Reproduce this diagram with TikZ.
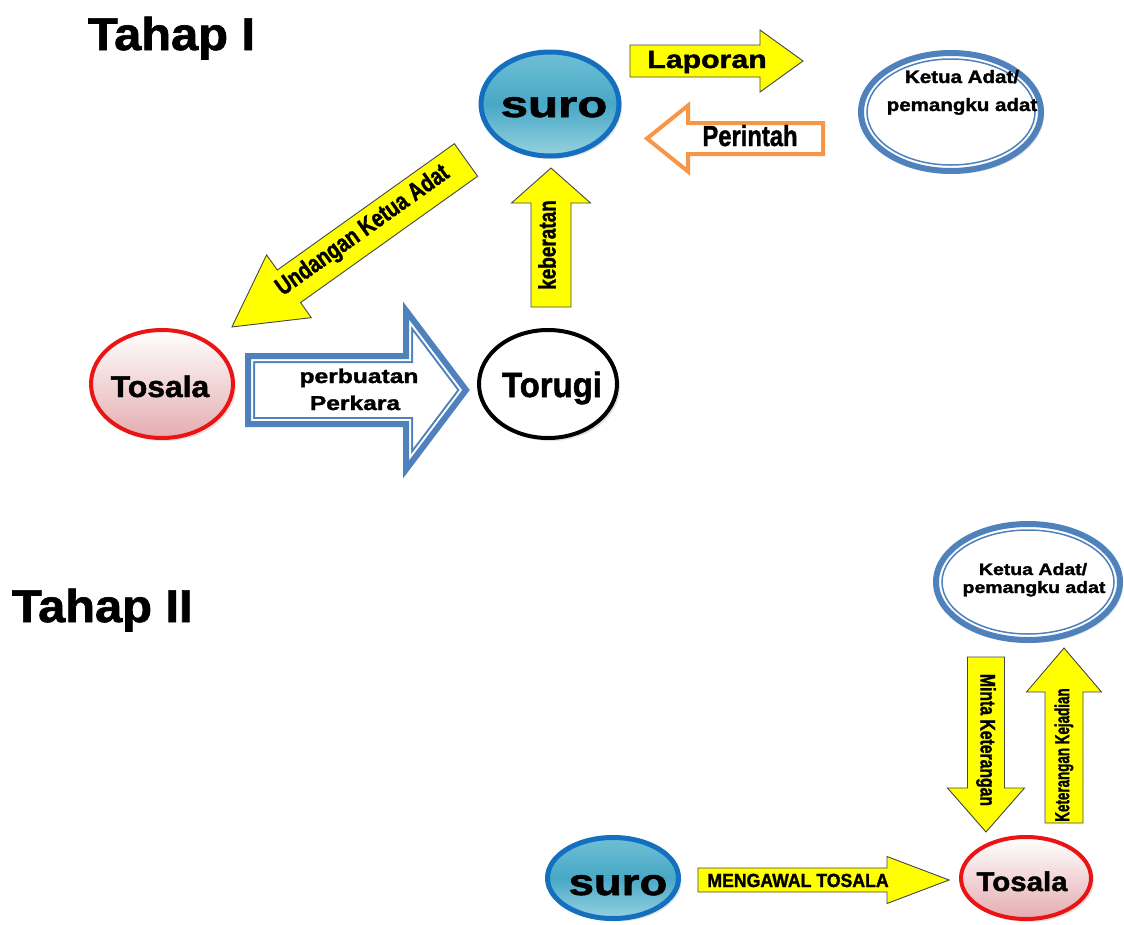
\documentclass[tikz,border=0pt]{standalone}
\usepackage{fontspec}
\setmainfont{Liberation Sans}[BoldFeatures={FakeBold=1.5}]
\usepackage{graphicx}
\usetikzlibrary{shapes.geometric,shadows}
\definecolor{ayellow}{RGB}{255,255,0}
\definecolor{aedge}{RGB}{70,70,70}
\definecolor{sblue}{RGB}{20,112,190}
\definecolor{sTop}{RGB}{110,192,212}
\definecolor{sMid}{RGB}{72,168,198}
\definecolor{sBot}{RGB}{150,210,224}
\definecolor{kblue}{RGB}{79,129,189}
\definecolor{tred}{RGB}{235,20,20}
\definecolor{tpink}{RGB}{228,172,176}
\definecolor{orng}{RGB}{247,150,70}

\newcommand\TX[3]{\scalebox{#2}[1]{\fontsize{#1}{#1}\selectfont\bfseries #3}}
% arrow outline: length, body width, head width, head length
\newcommand\arrowpath[4]{(0,-#2/2) -- (#1-#4,-#2/2) -- (#1-#4,-#3/2) -- (#1,0) -- (#1-#4,#3/2) -- (#1-#4,#2/2) -- (0,#2/2) -- cycle}
% style, tail coordinate, angle, length, body, head, headlen
\newcommand\blockarrow[7]{%
  \begin{scope}[shift={(#2)},rotate=#3]
    \path[#1] \arrowpath{#4}{#5}{#6}{#7};
  \end{scope}}

\tikzset{
  ell/.style={ellipse, inner sep=0pt, outer sep=0pt},
  shad/.style={drop shadow={opacity=0.22, shadow xshift=3pt, shadow yshift=-3pt}},
  suronode/.style={ell, shad, draw=sblue, line width=5, top color=sTop, bottom color=sBot, middle color=sMid},
  tosalanode/.style={ell, shad, draw=tred, line width=4, top color=white, bottom color=tpink},
  torunode/.style={ell, shad, draw=black, line width=4, fill=white},
  ketuanode/.style={ell, shad, draw=kblue, line width=6, fill=white},
  ketuainner/.style={draw=kblue, line width=1.5},
  yarrow/.style={fill=ayellow, draw=aedge, line width=0.9, line join=miter},
  oarrow/.style={fill=white, draw=orng, line width=4, line join=miter},
  lbl/.style={inner sep=0pt, outer sep=0pt},
}

\begin{document}
\begin{tikzpicture}[x=1pt, y=-1pt]
\useasboundingbox[fill=white] (0,0) rectangle (1124,924);

% ---------- Tahap I ----------
\node[lbl, anchor=base west] (tahap1) at (88,50) {\TX{46}{1.06}{Tahap I}};

\node[suronode, minimum width=138, minimum height=104] (suro1) at (550,104) {};
\node[lbl, anchor=base] (suro1t) at (554,117) {\TX{37}{1.33}{suro}};

\node[ketuanode, minimum width=180, minimum height=118] (ketua1) at (951,112) {};
\draw[ketuainner] (ketua1.center) ellipse [x radius=84, y radius=53];
\node[lbl, anchor=base] (ketua1a) at (962,83) {\TX{18}{1.14}{Ketua Adat/}};
\node[lbl, anchor=base] (ketua1b) at (962,111) {\TX{18}{1.14}{pemangku adat}};

\node[tosalanode, minimum width=142, minimum height=108] (tosala1) at (162,384) {};
\node[lbl, anchor=base] (tosala1t) at (160,397) {\TX{30}{1.06}{Tosala}};

\node[torunode, minimum width=138, minimum height=108] (torugi) at (548,384) {};
\node[lbl, anchor=base] (torugit) at (552,397) {\TX{35}{0.94}{Torugi}};

% Laporan
\coordinate (lapA) at (630,61);
\blockarrow{yarrow}{lapA}{0}{173}{32}{62}{43}
\node[lbl, anchor=base] (lapT) at (707,68) {\TX{25}{1.21}{Laporan}};

% Perintah
\coordinate (perA) at (823,138.5);
\blockarrow{oarrow}{perA}{180}{176}{31}{66}{41}
\node[lbl, anchor=base] (perT) at (750,146) {\TX{29}{0.82}{Perintah}};

% Undangan Ketua Adat
\coordinate (undA) at (466,160);
\blockarrow{yarrow}{undA}{215.5}{287.5}{40}{77}{70}
\node[lbl, rotate=35.5] (undT) at (363,231) {\TX{25}{0.79}{Undangan Ketua Adat}};

% keberatan
\coordinate (kebA) at (551,307);
\blockarrow{yarrow}{kebA}{90}{139}{40}{79}{35}
\node[lbl, rotate=90] (kebT) at (547,245) {\TX{24}{0.79}{keberatan}};

% perbuatan Perkara (double blue outline)
\coordinate (pbA) at (248,390);
\begin{scope}[shift={(pbA)}]
  \begin{scope}
    \clip \arrowpath{218}{68}{159}{60};
    \fill[white] \arrowpath{218}{68}{159}{60};
    \draw[kblue, line width=14, line join=miter] \arrowpath{218}{68}{159}{60};
    \draw[white, line width=10, line join=miter] \arrowpath{218}{68}{159}{60};
  \end{scope}
  \draw[kblue, line width=6, line join=miter] \arrowpath{218}{68}{159}{60};
\end{scope}
\node[lbl, anchor=base] (pbT1) at (359,383) {\TX{20}{1.23}{perbuatan}};
\node[lbl, anchor=base] (pbT2) at (355,410) {\TX{20}{1.23}{Perkara}};

% ---------- Tahap II ----------
\node[lbl, anchor=base west] (tahap2) at (12,622) {\TX{46}{1.06}{Tahap II}};

\node[ketuanode, minimum width=184, minimum height=116] (ketua2) at (1028,582) {};
\draw[ketuainner] (ketua2.center) ellipse [x radius=86, y radius=52];
\node[lbl, anchor=base] (ketua2a) at (1033,575) {\TX{16.5}{1.18}{Ketua Adat/}};
\node[lbl, anchor=base] (ketua2b) at (1034,593) {\TX{16.5}{1.18}{pemangku adat}};

\node[suronode, minimum width=131, minimum height=81] (suro2) at (613,878) {};
\node[lbl, anchor=base] (suro2t) at (618,895) {\TX{37}{1.23}{suro}};

\node[tosalanode, minimum width=130, minimum height=82] (tosala2) at (1026,878) {};
\node[lbl, anchor=base] (tosala2t) at (1022,891) {\TX{27}{1.09}{Tosala}};

% Minta Keterangan
\coordinate (minA) at (986,657);
\blockarrow{yarrow}{minA}{-90}{175}{37}{77}{44}
\node[lbl, rotate=-90] (minT) at (986,740) {\TX{21}{0.75}{Minta Keterangan}};

% Keterangan Kejadian
\coordinate (kejA) at (1064,823);
\blockarrow{yarrow}{kejA}{90}{175}{38}{75}{44}
\node[lbl, rotate=90] (kejT) at (1064,755) {\TX{20}{0.67}{Keterangan Kejadian}};

% MENGAWAL TOSALA
\coordinate (menA) at (698,880);
\blockarrow{yarrow}{menA}{0}{251}{24}{47}{62}
\node[lbl, anchor=base] (menT) at (798,887) {\TX{19}{0.93}{MENGAWAL TOSALA}};

\end{tikzpicture}
\end{document}
